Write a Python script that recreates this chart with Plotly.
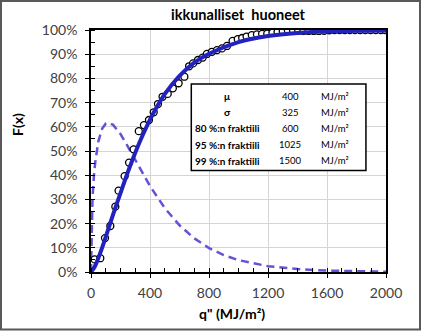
import plotly.graph_objects as go

# ---- data ----
q_obs = [25, 63, 95, 131, 165, 187, 228, 258, 289, 324, 359, 393, 425, 454, 485, 520,
         555, 594, 633, 665, 692, 725, 757, 786, 820, 854, 888, 922, 960, 995, 1025,
         1055, 1090, 1125, 1160, 1195, 1230, 1265, 1300, 1335, 1370, 1405, 1440, 1475,
         1510, 1545, 1580, 1615, 1650, 1685, 1720, 1755, 1790, 1825, 1860, 1895, 1930,
         1965, 1995]
F_obs = [5.2, 5.7, 14.0, 19.0, 27.0, 33.6, 39.6, 45.2, 50.7, 58.2, 60.7, 62.8, 66.0, 69.4,
         72.4, 73.6, 75.9, 78.0, 80.7, 85.0, 86.2, 87.6, 88.6, 90.1, 91.0, 91.7, 92.4, 93.4,
         95.5, 96.2, 96.7, 97.3, 97.9, 98.2, 98.4, 98.5, 98.9, 99.2, 99.6, 99.8, 99.8, 99.7,
         99.6, 99.6, 99.6, 99.6, 99.7, 99.9, 100, 100, 100, 100, 100, 100, 100, 100, 100,
         100, 100]

q_cdf = [0, 25, 50, 75, 100, 150, 200, 250, 300, 350, 400, 450, 500, 600, 700, 800,
         1000, 1200, 1400, 1600, 1800, 2000]
F_cdf = [0, 2.2, 5.8, 10.0, 14.5, 23.8, 32.6, 41.3, 49.3, 56.5, 63.0, 68.6, 73.5, 81.0,
         86.5, 90.2, 95.0, 97.5, 98.8, 99.4, 99.7, 99.8]

q_pdf = [0, 5, 10, 20, 30, 50, 75, 100, 117, 150, 200, 250, 300, 400, 500, 600, 700,
         800, 900, 1000, 1200, 1400, 1600, 1800, 2000]
f_pdf = [0, 22, 30, 40, 46, 54, 59.2, 61.3, 61.7, 60.8, 57.0, 51.8, 46.2, 35.5, 26.4,
         19.3, 13.9, 9.9, 7.0, 4.9, 2.4, 1.2, 0.56, 0.26, 0.12]

x_ticks = [0, 400, 800, 1200, 1600, 2000]
y_ticks = [0, 10, 20, 30, 40, 50, 60, 70, 80, 90, 100]
y_tick_text = [f"{v}%" for v in y_ticks]

table_labels = ["μ", "σ", "80 %:n fraktiili", "95 %:n fraktiili", "99 %:n fraktiili"]
table_values = ["400", "325", "600", "1025", "1500"]
table_unit = "MJ/m²"

title_text = "ikkunalliset&nbsp; huoneet"
x_title = "q\" (MJ/m²)"
y_title = "F(x)"

FONT = "Lato, Carlito, Calibri, sans-serif"
TXT = "#404040"

fig = go.Figure()

fig.add_trace(go.Scatter(x=q_pdf, y=f_pdf, mode="lines",
                         line=dict(color="#6652d6", width=2.5, dash="8px,5px"),
                         hoverinfo="skip"))
fig.add_trace(go.Scatter(x=q_obs, y=F_obs, mode="markers",
                         marker=dict(symbol="circle", size=7, color="white",
                                     line=dict(color="black", width=1.3)),
                         hoverinfo="skip"))
fig.add_trace(go.Scatter(x=q_cdf, y=F_cdf, mode="lines", line_shape="spline",
                         line=dict(color="#2222c0", width=4), hoverinfo="skip"))
# dummy trace so the overlay axes (inner halves of crossing ticks) are drawn
fig.add_trace(go.Scatter(x=[None], y=[None], xaxis="x2", yaxis="y2",
                         mode="markers", hoverinfo="skip", showlegend=False))

axis_font = dict(family=FONT, size=14, color=TXT)

fig.update_layout(
    width=423, height=332,
    margin=dict(l=91, r=37, t=30, b=60),
    paper_bgcolor="white", plot_bgcolor="white",
    showlegend=False,
    xaxis=dict(range=[0, 2000], tickvals=x_ticks, ticks="outside", ticklen=4,
               tickwidth=1.3, tickcolor="black",
               minor=dict(ticks="inside", dtick=100, tick0=0, ticklen=4,
                          tickcolor="black", tickwidth=1.3, showgrid=False),
               showgrid=True, gridcolor="#d4d4d4", gridwidth=1,
               showline=True, linecolor="black", linewidth=1.5, mirror=True,
               zeroline=False, tickfont=axis_font, ticklabelstandoff=3),
    yaxis=dict(range=[0, 100], tickvals=y_ticks, ticktext=y_tick_text, ticks="outside",
               ticklen=4, tickwidth=1.3, tickcolor="black",
               minor=dict(ticks="inside", dtick=5, tick0=0, ticklen=4,
                          tickcolor="black", tickwidth=1.3, showgrid=False),
               showgrid=True, gridcolor="#d4d4d4", gridwidth=1,
               showline=True, linecolor="black", linewidth=1.5, mirror=True,
               zeroline=False, tickfont=axis_font, ticklabelstandoff=5),
    xaxis2=dict(range=[0, 2000], overlaying="x", anchor="y", side="bottom",
                tickvals=x_ticks, ticks="inside", ticklen=4, tickwidth=1.3,
                tickcolor="black", showticklabels=False, showgrid=False,
                showline=False, zeroline=False),
    yaxis2=dict(range=[0, 100], overlaying="y", anchor="x", side="left",
                tickvals=y_ticks, ticks="inside", ticklen=4, tickwidth=1.3,
                tickcolor="black", showticklabels=False, showgrid=False,
                showline=False, zeroline=False),
)

shapes = []
# outer chart border
shapes.append(dict(type="rect", xref="paper", yref="paper",
                   x0=(1 - 91) / 295, x1=(420 - 91) / 295,
                   y0=(272 - 329.5) / 242, y1=(272 - 1) / 242,
                   line=dict(color="#595959", width=2), fillcolor="rgba(0,0,0,0)",
                   layer="above"))
# parameter table box
shapes.append(dict(type="rect", xref="paper", yref="paper",
                   x0=0.340, x1=0.932, y0=0.419, y1=0.777,
                   line=dict(color="black", width=1.5), fillcolor="white",
                   layer="above"))
fig.update_layout(shapes=shapes)

annotations = []
annotations.append(dict(text=f"<b>{title_text}</b>", xref="paper", yref="paper",
                        x=0.5, y=(272 - 14) / 242, xanchor="center", yanchor="middle",
                        showarrow=False, font=dict(family=FONT, size=14.5, color="black")))
annotations.append(dict(text=f"<b>{x_title}</b>", xref="paper", yref="paper",
                        x=(232 - 91) / 295, y=(272 - 313) / 242, xanchor="center",
                        yanchor="middle", showarrow=False,
                        font=dict(family=FONT, size=14, color="black")))
annotations.append(dict(text=f"<b>{y_title}</b>", xref="paper", yref="paper",
                        x=(17 - 91) / 295, y=(272 - 125) / 242, xanchor="center",
                        yanchor="middle", showarrow=False, textangle=-90,
                        font=dict(family=FONT, size=14, color="black")))

row_y = [0.727, 0.660, 0.594, 0.525, 0.459]
for lab, val, ry in zip(table_labels, table_values, row_y):
    annotations.append(dict(text=f"<b>{lab}</b>", xref="paper", yref="paper",
                            x=0.462, y=ry, xanchor="center", yanchor="middle",
                            showarrow=False,
                            font=dict(family=FONT, size=10, color="black")))
    annotations.append(dict(text=val, xref="paper", yref="paper",
                            x=0.675, y=ry, xanchor="center", yanchor="middle",
                            showarrow=False,
                            font=dict(family=FONT, size=9.5, color="black")))
    annotations.append(dict(text=table_unit, xref="paper", yref="paper",
                            x=0.774, y=ry, xanchor="left", yanchor="middle",
                            showarrow=False,
                            font=dict(family=FONT, size=9.5, color="black")))
fig.update_layout(annotations=annotations)

fig.write_html("out.html")
